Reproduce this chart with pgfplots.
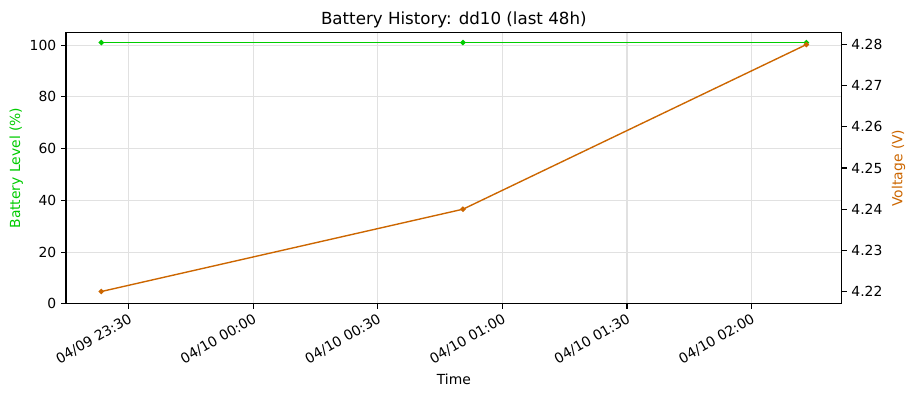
\documentclass[border=0pt]{standalone}
\usepackage{pgfplots}
\pgfplotsset{compat=1.18}
\usepackage{fontspec}
\setmainfont{DejaVu Sans}
\definecolor{bgreen}{RGB}{0,204,0}
\definecolor{borange}{RGB}{204,102,0}
\definecolor{gridc}{RGB}{225,225,225}
\begin{document}
\begin{tikzpicture}
\useasboundingbox (0,0) rectangle (655.2pt,285.8pt);
\begin{axis}[
  at={(47.5pt,67pt)}, anchor=south west, scale only axis,
  width=558.5pt, height=195.6pt,
  xmin=-15.1, xmax=171.7, ymin=0, ymax=105,
  xtick={0,30,60,90,120,150},
  xticklabels={04/09 23:30,04/10 00:00,04/10 00:30,04/10 01:00,04/10 01:30,04/10 02:00},
  ytick={0,20,40,60,80,100},
  xtick pos=bottom, ytick pos=left,
  tick align=outside, major tick length=3.5pt,
  every tick/.style={black, line width=0.8pt},
  axis line style={line width=0.8pt},
  grid=major, major grid style={gridc, line width=0.8pt},
  xticklabel style={rotate=30, anchor=north east, font=\fontsize{10}{12}\selectfont, inner sep=2pt},
  yticklabel style={font=\fontsize{10}{12}\selectfont},
  /pgf/number format/assume math mode=true,
  xlabel={Time}, xlabel style={font=\fontsize{10}{12}\selectfont},
  ylabel={Battery Level (\%)}, ylabel style={font=\fontsize{10}{12}\selectfont, text=bgreen, yshift=-2pt},
  title={Battery History: dd10 (last 48h)}, title style={font=\fontsize{12}{14}\selectfont, yshift=-6.5pt},
]
\addplot[bgreen, line width=1pt, mark=*, mark size=1.4pt] coordinates {(-6.6,101) (80.5,101) (163.2,101)};
\end{axis}
\begin{axis}[
  at={(47.5pt,67pt)}, anchor=south west, scale only axis,
  width=558.5pt, height=195.6pt,
  xmin=-15.1, xmax=171.7, ymin=4.217, ymax=4.283,
  axis x line=none, axis y line*=right,
  ytick={4.22,4.23,4.24,4.25,4.26,4.27,4.28},
  yticklabel style={font=\fontsize{10}{12}\selectfont, /pgf/number format/.cd, fixed, fixed zerofill, precision=2},
  /pgf/number format/assume math mode=true,
  tick align=outside, major tick length=3.5pt,
  every tick/.style={black, line width=0.8pt},
  axis line style={line width=0.8pt, -},
  ylabel={Voltage (V)}, ylabel style={font=\fontsize{10}{12}\selectfont, text=borange},
]
\addplot[borange, line width=1pt, mark=*, mark size=1.4pt] coordinates {(-6.6,4.22) (80.5,4.24) (163.2,4.28)};
\end{axis}
\end{tikzpicture}
\end{document}
